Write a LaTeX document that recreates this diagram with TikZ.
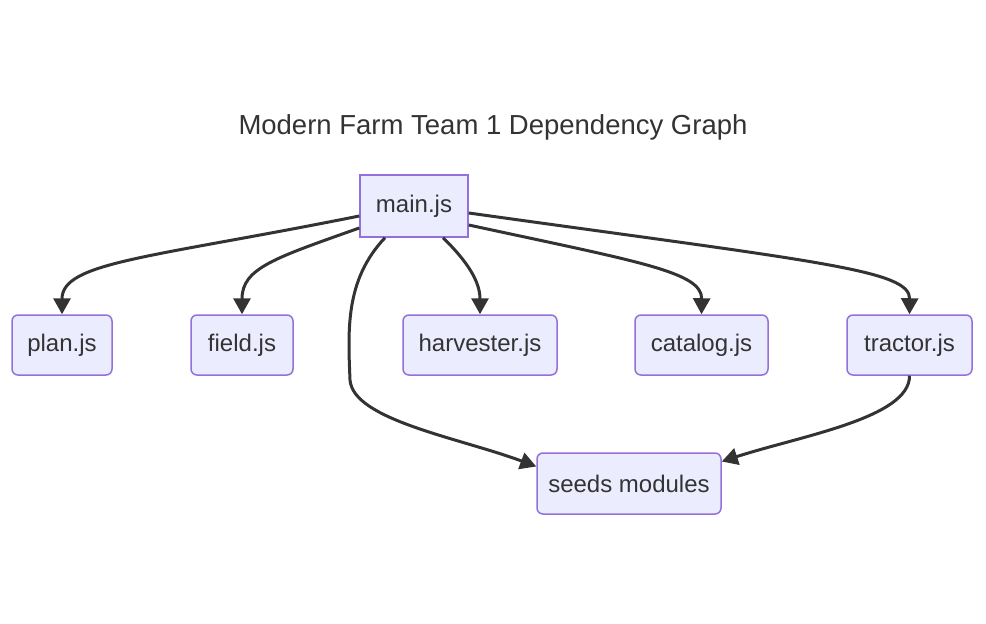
\documentclass[tikz,border=0pt]{standalone}
\usepackage{fontspec}
\setmainfont{Liberation Sans}
\usetikzlibrary{arrows.meta}
\usetikzlibrary{positioning}

\definecolor{nodefill}{HTML}{ECECFF}
\definecolor{nodeline}{HTML}{9370DB}
\definecolor{edgeline}{HTML}{333333}

\tikzset{
  module/.style={draw=nodeline, fill=nodefill, line width=1.5pt, rounded corners=6pt,
    minimum height=60pt, inner sep=0pt, text=edgeline, font=\fontsize{24}{28}\selectfont},
  dep/.style={draw=edgeline, line width=3pt, -{Triangle[length=16pt,width=17pt]}}
}

\begin{document}
\begin{tikzpicture}[x=1pt, y=-1pt]

\useasboundingbox (0,0) rectangle (986,624);

% title
\node[text=edgeline, font=\fontsize{27.5}{32}\selectfont] (title) at (493,127) {Modern Farm Team 1 Dependency Graph};

% modules
\node[module, rounded corners=0pt, minimum width=108pt, minimum height=62pt] (main) at (414,206) {main.js};
\node[module, minimum width=100pt] (plan) at (62,345) {plan.js};
\node[module, minimum width=102pt] (field) at (242,345) {field.js};
\node[module, minimum width=154pt] (harvester) at (480,345) {harvester.js};
\node[module, minimum width=133pt] (catalog) at (701.5,345) {catalog.js};
\node[module, minimum width=125pt] (tractor) at (909.5,345) {tractor.js};
\node[module, minimum width=184pt, minimum height=61pt] (seeds) at (629,483.5) {seeds modules};

% dependencies
\draw[dep] ([yshift=-10pt]main.west) .. controls (150,258) and (62,262) .. (plan.north);
\draw[dep] ([yshift=-22pt]main.west) .. controls (275,258) and (242,268) .. (field.north);
\draw[dep] ([xshift=29pt]main.south) .. controls (468,262) and (480,282) .. (harvester.north);
\draw[dep] ([yshift=-19pt]main.east) .. controls (640,262) and (702,272) .. (catalog.north);
\draw[dep] ([yshift=-7pt]main.east) .. controls (820,262) and (910,270) .. (tractor.north);
\draw[dep] ([xshift=-29pt]main.south) .. controls (345,280) and (348,330) .. (350,380)
  .. controls (353,420) and (460,438) .. ([yshift=17pt]seeds.west);
\draw[dep] (tractor.south) .. controls (910,418) and (800,436) .. ([yshift=22pt]seeds.east);

\end{tikzpicture}
\end{document}
